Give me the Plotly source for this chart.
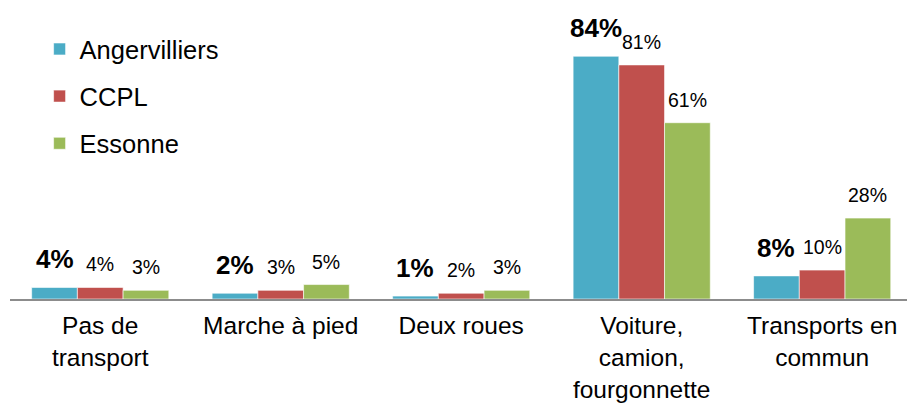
import plotly.graph_objects as go

categories = ["Pas de<br>transport", "Marche à pied", "Deux roues",
              "Voiture,<br>camion,<br>fourgonnette", "Transports en<br>commun"]
series_names = ["Angervilliers", "CCPL", "Essonne"]
angervilliers = [4, 2, 1, 84, 8]
ccpl = [4, 3, 2, 81, 10]
essonne = [3, 5, 3, 61, 28]
colors = ["#4BACC6", "#C0504D", "#9BBB59"]

FONT = "Liberation Sans, Arial, sans-serif"
values = [angervilliers, ccpl, essonne]

fig = go.Figure()
for k, (name, vals, col) in enumerate(zip(series_names, values, colors)):
    fig.add_trace(go.Bar(
        x=list(range(len(categories))), y=vals, name=name,
        marker=dict(color=col, line=dict(color="white", width=0.6)),
        legendgroup=name,
    ))

# value labels above each bar; first series is emphasised in bold
bar_w = (1 - 0.24) / 3
annotations = []
for k, vals in enumerate(values):
    offset = (k - 1) * bar_w
    for i, v in enumerate(vals):
        bold = k == 0
        annotations.append(dict(
            x=i + offset, y=v, xref="x", yref="y",
            text=f"<b>{v}%</b>" if bold else f"{v}%",
            showarrow=False, yanchor="bottom", xanchor="center",
            yshift=11 if bold else 10,
            font=dict(family=FONT, size=26 if bold else 19.5, color="#000"),
        ))

fig.update_layout(
    width=907, height=406,
    margin=dict(l=10, r=0, t=10, b=107),
    paper_bgcolor="white", plot_bgcolor="white",
    barmode="group", bargap=0.24, bargroupgap=0,
    font=dict(family=FONT, color="#000"),
    showlegend=True,
    legend=dict(x=0.033, y=0.945, xanchor="left", yanchor="top",
                font=dict(family=FONT, size=25.5, color="#000"),
                tracegroupgap=11, bgcolor="rgba(0,0,0,0)"),
    annotations=annotations,
)
fig.update_xaxes(
    tickmode="array", tickvals=list(range(len(categories))), ticktext=categories,
    range=[-0.5, 4.47], showline=True, linecolor="#8c8c8c", linewidth=1.5,
    showgrid=False, zeroline=False, ticks="",
    tickfont=dict(family=FONT, size=24.5, color="#000"),
    ticklabelstandoff=4,
)
fig.update_yaxes(range=[0, 100], visible=False, showgrid=False, zeroline=False)

fig.write_html("out.html")
